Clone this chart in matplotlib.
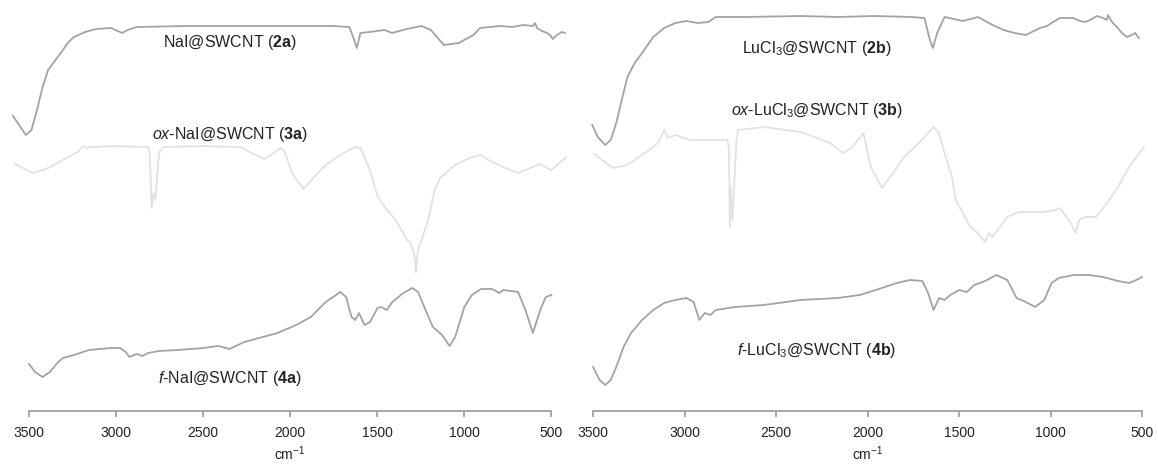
import matplotlib.pyplot as plt
import numpy as np

plt.rcParams['font.family'] = ['Liberation Sans', 'DejaVu Sans']
plt.rcParams['mathtext.fontset'] = 'custom'
plt.rcParams['mathtext.rm'] = 'Liberation Sans'
plt.rcParams['mathtext.it'] = 'Liberation Sans:italic'
plt.rcParams['mathtext.bf'] = 'Liberation Sans:bold'

# ---- NaI@SWCNT (2a) ----
wn_2a = [3592, 3518, 3486, 3454, 3422, 3390, 3348, 3305, 3273, 3241, 3178, 3114, 3029,
         2965, 2933, 2880, 2604, 2179, 1754, 1659, 1637, 1616, 1595, 1541, 1456, 1414,
         1329, 1244, 1190, 1116, 1031, 945, 908, 793, 719, 661, 604, 592, 580, 552, 523,
         506, 489, 466, 437, 420]
it_2a = [295, 276, 281, 301, 324, 341, 351, 361, 369, 374, 379, 382, 383,
         378, 381, 384, 385, 385, 385, 384, 374, 363, 378, 379, 381, 378,
         382, 385, 381, 366, 368, 376, 383, 385, 384, 386, 385, 388, 383, 380, 378,
         376, 372, 376, 379, 378]

# ---- ox-NaI@SWCNT (3a) ----
wn_3a = [3582, 3475, 3390, 3284, 3220, 3188, 3167, 3146, 3114, 3029, 2817, 2806, 2795,
         2785, 2774, 2753, 2731, 2498, 2285, 2221, 2147, 2094, 2051, 2030, 1988, 1924,
         1860, 1796, 1711, 1626, 1595, 1541, 1499, 1456, 1393, 1350, 1329, 1308, 1287,
         1276, 1265, 1244, 1201, 1169, 1137, 1052, 967, 903, 860, 775, 690, 605, 562,
         499, 477, 413]
it_3a = [247, 238, 243, 253, 259, 265, 263, 264, 264, 265, 264, 258, 203,
         218, 211, 258, 264, 265, 264, 258, 252, 258, 263, 259, 238, 222,
         234, 246, 256, 264, 263, 241, 216, 204, 191, 178, 171, 168, 158,
         139, 161, 171, 194, 221, 233, 246, 253, 256, 251, 244, 238, 244, 247,
         241, 244, 254]

# ---- f-NaI@SWCNT (4a) ----
wn_4a = [3500, 3465, 3422, 3380, 3337, 3305, 3241, 3156, 3029, 2976, 2944, 2923, 2880,
         2848, 2816, 2752, 2646, 2497, 2412, 2348, 2263, 2178, 2072, 1965, 1880, 1795,
         1710, 1678, 1646, 1625, 1604, 1572, 1540, 1497, 1476, 1444, 1412, 1349, 1296,
         1264, 1221, 1179, 1126, 1083, 1051, 998, 955, 902, 838, 796, 774, 689, 647,
         604, 562, 530, 498]
it_4a = [47, 39, 34, 39, 48, 53, 56, 61, 63, 63, 59, 54, 57,
         55, 58, 60, 61, 63, 65, 62, 69, 73, 78, 86, 94, 109,
         119, 114, 94, 91, 98, 86, 89, 103, 104, 101, 109, 118, 123,
         119, 101, 84, 76, 65, 74, 104, 116, 122, 122, 118, 121, 119, 101,
         78, 101, 114, 116]

# ---- LuCl3@SWCNT (2b) ----
wn_2b = [3504, 3474, 3433, 3403, 3373, 3343, 3312, 3272, 3232, 3171, 3111, 3050, 2990,
         2929, 2869, 2829, 2667, 2365, 2163, 1962, 1760, 1689, 1659, 1643, 1619, 1579,
         1478, 1397, 1316, 1256, 1196, 1135, 1058, 1019, 987, 948, 910, 877, 839, 812,
         784, 746, 713, 692, 686, 664, 637, 610, 582, 555, 538, 517]
it_2b = [286, 274, 266, 271, 288, 311, 334, 348, 358, 374, 383, 388, 390,
         388, 389, 394, 394, 395, 394, 395, 394, 393, 371, 363, 378, 394,
         390, 394, 386, 381, 378, 376, 383, 385, 389, 393, 393, 393, 390, 389,
         391, 395, 393, 391, 396, 389, 384, 378, 374, 376, 378, 373]

# ---- ox-LuCl3@SWCNT (3b) ----
wn_3b = [3494, 3393, 3312, 3232, 3171, 3141, 3111, 3091, 3050, 2970, 2768, 2758, 2752,
         2748, 2738, 2717, 2708, 2567, 2365, 2204, 2133, 2083, 2022, 1982, 1921, 1861,
         1800, 1719, 1639, 1609, 1579, 1538, 1518, 1478, 1437, 1397, 1357, 1337, 1316,
         1276, 1236, 1175, 1115, 1034, 974, 954, 933, 893, 863, 843, 812, 752, 692,
         631, 571, 490]
it_3b = [257, 243, 246, 256, 264, 269, 281, 273, 276, 271, 271, 264, 184,
         224, 191, 268, 281, 284, 279, 268, 258, 264, 278, 244, 223, 238,
         254, 268, 284, 278, 258, 234, 211, 198, 184, 178, 169, 178, 174,
         184, 194, 199, 199, 199, 201, 203, 199, 189, 178, 191, 194, 194, 208,
         224, 244, 264]

# ---- f-LuCl3@SWCNT (4b) ----
wn_4b = [3500, 3464, 3433, 3403, 3373, 3333, 3292, 3232, 3171, 3111, 3050, 2990, 2950,
         2919, 2889, 2859, 2829, 2724, 2567, 2365, 2163, 2042, 1921, 1840, 1770, 1700,
         1669, 1639, 1609, 1579, 1548, 1498, 1457, 1417, 1357, 1296, 1236, 1185, 1135,
         1084, 1034, 994, 954, 873, 793, 712, 631, 571, 531, 500]
it_4b = [44, 31, 26, 31, 44, 64, 78, 91, 101, 108, 111, 113, 109,
         91, 98, 96, 101, 104, 106, 111, 113, 116, 123, 128, 131, 130,
         118, 101, 113, 111, 116, 121, 119, 126, 130, 136, 131, 113, 109,
         104, 111, 128, 133, 136, 136, 134, 130, 128, 131, 134]

ticks = [3500, 3000, 2500, 2000, 1500, 1000, 500]

labels_left = [r'NaI@SWCNT ($\mathbf{2a}$)',
               r'$\mathit{ox}$-NaI@SWCNT ($\mathbf{3a}$)',
               r'$\mathit{f}$-NaI@SWCNT ($\mathbf{4a}$)']
labels_right = [r'LuCl$_3$@SWCNT ($\mathbf{2b}$)',
                r'$\mathit{ox}$-LuCl$_3$@SWCNT ($\mathbf{3b}$)',
                r'$\mathit{f}$-LuCl$_3$@SWCNT ($\mathbf{4b}$)']

W, H = 1158, 468
fig = plt.figure(figsize=(W / 100, H / 100), dpi=100)

dark = '#a3a3a3'
light = '#e2e2e2'
axis_y = 411


def make_panel(x0, x1, series, labels, label_pos):
    ax = fig.add_axes([x0 / W, 1 - axis_y / H, (x1 - x0) / W, axis_y / H])
    for (wn, it), col in zip(series, [dark, light, dark]):
        ax.plot(wn, it, color=col, lw=1.3, clip_on=False)
    ax.set_xlim(3500, 500)
    ax.set_ylim(0, axis_y)
    for s in ['top', 'left', 'right']:
        ax.spines[s].set_visible(False)
    ax.spines['bottom'].set_color('#9a9a9a')
    ax.spines['bottom'].set_linewidth(1.2)
    ax.set_yticks([])
    ax.set_xticks(ticks)
    ax.tick_params(axis='x', length=4, width=1.2, color='#9a9a9a',
                   labelsize=10, labelcolor='#222222', pad=7)
    ax.set_xlabel('cm$^{-1}$', fontsize=10, color='#222222', labelpad=3)
    for txt, (xw, yv) in zip(labels, label_pos):
        ax.text(xw, yv, txt, ha='center', va='center', fontsize=11.5, color='#222222')
    return ax


make_panel(29, 551, [(wn_2a, it_2a), (wn_3a, it_3a), (wn_4a, it_4a)],
           labels_left, [(2345, 368), (2345, 276), (2345, 33)])
make_panel(593, 1142, [(wn_2b, it_2b), (wn_3b, it_3b), (wn_4b, it_4b)],
           labels_right, [(2276, 363), (2276, 301), (2276, 61)])

plt.savefig('out.png', dpi=100, facecolor='white')
